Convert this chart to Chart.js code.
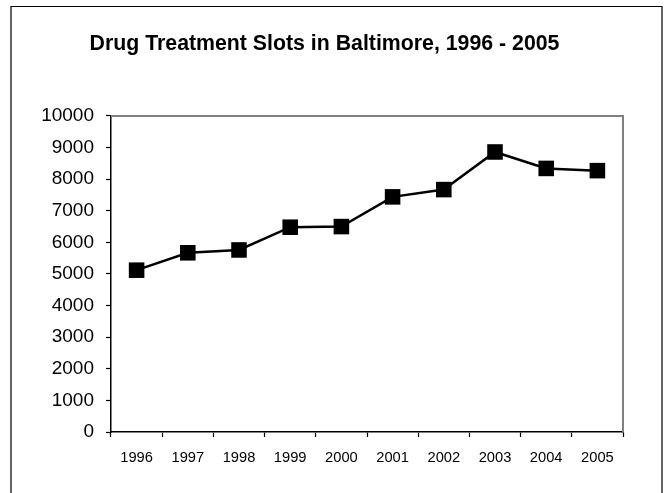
<!DOCTYPE html>
<html>
<head>
<meta charset="utf-8">
<script src="https://cdn.jsdelivr.net/npm/chart.js@4/dist/chart.umd.min.js"></script>
<style>
html,body{margin:0;padding:0;background:#fff;}
#wrap{width:666px;height:493px;position:relative;}
</style>
</head>
<body>
<div id="wrap"><canvas id="c" width="666" height="493"></canvas></div>
<script>
const years = ["1996","1997","1998","1999","2000","2001","2002","2003","2004","2005"];
const slots = [5120, 5670, 5760, 6480, 6500, 7440, 7670, 8860, 8340, 8270];
const yTicks = [0,1000,2000,3000,4000,5000,6000,7000,8000,9000,10000];
const titleText = "Drug Treatment Slots in Baltimore, 1996 - 2005";

const framePlugin = {
  id: 'frame',
  beforeDraw(chart) {
    const ctx = chart.ctx;
    ctx.save();
    ctx.fillStyle = '#fff';
    ctx.fillRect(0, 0, chart.width, chart.height);
    ctx.strokeStyle = '#000';
    ctx.lineWidth = 1.2;
    ctx.beginPath();
    ctx.moveTo(11, chart.height + 5);
    ctx.lineTo(11, 6.5);
    ctx.lineTo(662, 6.5);
    ctx.lineTo(662, chart.height + 5);
    ctx.stroke();
    ctx.restore();
  },
  beforeDatasetsDraw(chart) {
    const a = chart.chartArea;
    const ctx = chart.ctx;
    ctx.save();
    ctx.strokeStyle = '#808080';
    ctx.lineWidth = 2;
    ctx.beginPath();
    ctx.moveTo(a.left, a.top);
    ctx.lineTo(a.right, a.top);
    ctx.lineTo(a.right, a.bottom);
    ctx.stroke();
    ctx.restore();
  }
};

new Chart(document.getElementById('c'), {
  type: 'line',
  data: {
    labels: years,
    datasets: [{
      data: slots,
      borderColor: '#000',
      borderWidth: 2.5,
      backgroundColor: '#000',
      pointStyle: 'rect',
      pointRadius: 11,
      pointHoverRadius: 11,
      pointBackgroundColor: '#000',
      pointBorderColor: '#000',
      pointBorderWidth: 0,
      tension: 0,
      fill: false
    }]
  },
  options: {
    responsive: false,
    animation: false,
    devicePixelRatio: 1,
    layout: { padding: { left: 26, right: 43, top: 0, bottom: 0 } },
    plugins: {
      legend: { display: false },
      tooltip: { enabled: false },
      title: {
        display: true,
        text: titleText,
        color: '#000',
        font: { family: 'Liberation Sans, Arial, sans-serif', size: 21.3, weight: 'bold' },
        padding: { top: 31, bottom: 59.4 }
      }
    },
    scales: {
      x: {
        type: 'category',
        offset: true,
        grid: { display: true, offset: true, drawOnChartArea: false, drawTicks: true, tickLength: 5, color: '#000', tickWidth: 1.2 },
        border: { display: true, color: '#000', width: 1.5 },
        ticks: { color: '#000', font: { family: 'Liberation Sans, Arial, sans-serif', size: 14.7 }, padding: 12, maxRotation: 0, autoSkip: false },
        afterFit(s) { s.height = 61; }
      },
      y: {
        min: 0,
        max: 10000,
        afterBuildTicks(s) { s.ticks = yTicks.map(v => ({ value: v })); },
        grid: { display: true, drawOnChartArea: false, drawTicks: true, tickLength: 5, color: '#000', tickWidth: 1.2 },
        border: { display: true, color: '#000', width: 1.5 },
        ticks: { color: '#000', font: { family: 'Liberation Sans, Arial, sans-serif', size: 19 }, padding: 12, callback: v => String(v) },
        afterFit(s) { s.width = 85; }
      }
    }
  },
  plugins: [framePlugin]
});
</script>
</body>
</html>
